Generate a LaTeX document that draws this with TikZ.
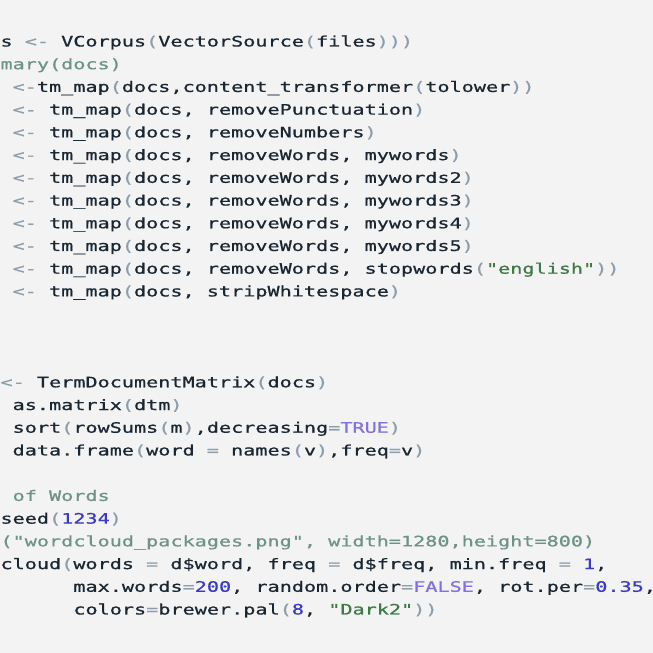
\documentclass[tikz,border=0pt]{standalone}
\usepackage{fontspec}
\setmonofont{DejaVu Sans Mono}[FakeStretch=1.40,FakeBold=0.8]
\definecolor{bgc}{HTML}{F3F3F3}
\definecolor{txt}{HTML}{1A2733}
\definecolor{gry}{HTML}{8C9EAC}
\definecolor{numc}{HTML}{3A3AC8}
\definecolor{kwc}{HTML}{8471E0}
\definecolor{strc}{HTML}{3D7B45}
\definecolor{cmtc}{HTML}{6C9388}
\newcommand{\cp}[1]{\textcolor{gry}{#1}}
\newcommand{\cn}[1]{\textcolor{numc}{#1}}
\newcommand{\ck}[1]{\textcolor{kwc}{#1}}
\newcommand{\cstr}[1]{\textcolor{strc}{#1}}
\newcommand{\ccm}[1]{\textcolor{cmtc}{#1}}
\newcommand{\dq}{\symbol{34}}
\newcommand{\lx}[1]{\fpeval{0.5+#1*12.15}pt}
\newcommand{\ly}[1]{\fpeval{653-46.5-(#1-1)*22.72}pt}
\tikzset{codeline/.style={anchor=base west, inner sep=0pt, outer sep=0pt,
  font=\ttfamily\fontsize{14.4pt}{17pt}\selectfont, text=txt}}
\begin{document}
\begin{tikzpicture}[x=1pt,y=1pt]
\useasboundingbox (0,0) rectangle (653,653);
\clip (0,0) rectangle (653,653);
\fill[bgc] (0,0) rectangle (653,653);
\node[codeline] (l1) at (\lx{0},\ly{1}) {s \cp{<-} VCorpus\cp{(}VectorSource\cp{(}files\cp{)))}};
\node[codeline] (l2) at (\lx{0},\ly{2}) {\ccm{mary(docs)}};
\node[codeline] (l3) at (\lx{1},\ly{3}) {\cp{<-}tm\_map\cp{(}docs,content\_transformer\cp{(}tolower\cp{))}};
\node[codeline] (l4) at (\lx{1},\ly{4}) {\cp{<-} tm\_map\cp{(}docs, removePunctuation\cp{)}};
\node[codeline] (l5) at (\lx{1},\ly{5}) {\cp{<-} tm\_map\cp{(}docs, removeNumbers\cp{)}};
\node[codeline] (l6) at (\lx{1},\ly{6}) {\cp{<-} tm\_map\cp{(}docs, removeWords, mywords\cp{)}};
\node[codeline] (l7) at (\lx{1},\ly{7}) {\cp{<-} tm\_map\cp{(}docs, removeWords, mywords2\cp{)}};
\node[codeline] (l8) at (\lx{1},\ly{8}) {\cp{<-} tm\_map\cp{(}docs, removeWords, mywords3\cp{)}};
\node[codeline] (l9) at (\lx{1},\ly{9}) {\cp{<-} tm\_map\cp{(}docs, removeWords, mywords4\cp{)}};
\node[codeline] (l10) at (\lx{1},\ly{10}) {\cp{<-} tm\_map\cp{(}docs, removeWords, mywords5\cp{)}};
\node[codeline] (l11) at (\lx{1},\ly{11}) {\cp{<-} tm\_map\cp{(}docs, removeWords, stopwords\cp{(}\cstr{\dq english\dq}\cp{))}};
\node[codeline] (l12) at (\lx{1},\ly{12}) {\cp{<-} tm\_map\cp{(}docs, stripWhitespace\cp{)}};
\node[codeline] (l16) at (\lx{0},\ly{16}) {\cp{<-} TermDocumentMatrix\cp{(}docs\cp{)}};
\node[codeline] (l17) at (\lx{1},\ly{17}) {as.matrix\cp{(}dtm\cp{)}};
\node[codeline] (l18) at (\lx{1},\ly{18}) {sort\cp{(}rowSums\cp{(}m\cp{)},decreasing\cp{=}\ck{TRUE}\cp{)}};
\node[codeline] (l19) at (\lx{1},\ly{19}) {data.frame\cp{(}word \cp{=} names\cp{(}v\cp{)},freq\cp{=}v\cp{)}};
\node[codeline] (l21) at (\lx{1},\ly{21}) {\ccm{of Words}};
\node[codeline] (l22) at (\lx{0},\ly{22}) {seed\cp{(}\cn{1234}\cp{)}};
\node[codeline] (l23) at (\lx{0},\ly{23}) {\ccm{(\dq wordcloud\_packages.png\dq, width=1280,height=800)}};
\node[codeline] (l24) at (\lx{0},\ly{24}) {cloud\cp{(}words \cp{=} d\$word, freq \cp{=} d\$freq, min.freq \cp{=} \cn{1},};
\node[codeline] (l25) at (\lx{6},\ly{25}) {max.words\cp{=}\cn{200}, random.order\cp{=}\ck{FALSE}, rot.per\cp{=}\cn{0.35},};
\node[codeline] (l26) at (\lx{6},\ly{26}) {colors\cp{=}brewer.pal\cp{(}\cn{8}, \cstr{\dq Dark2\dq}\cp{))}};
\end{tikzpicture}
\end{document}
